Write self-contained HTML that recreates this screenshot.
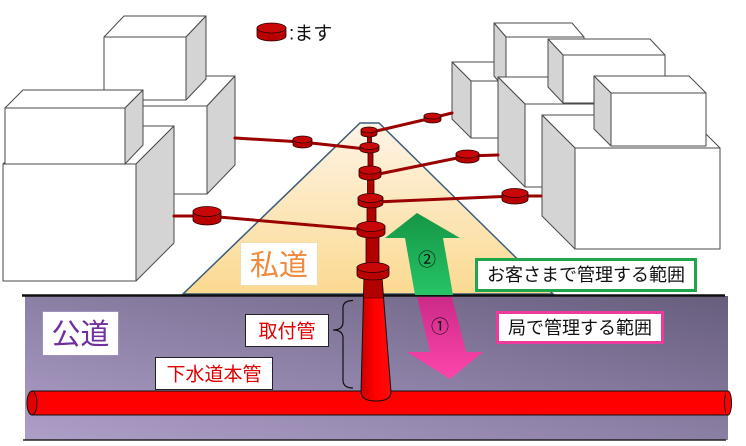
<!DOCTYPE html>
<html><head><meta charset="utf-8"><style>
html,body{margin:0;padding:0;background:#fff;}
svg{display:block;}
text{font-family:"Liberation Sans","Noto Sans CJK JP",sans-serif;}
</style></head><body>
<svg width="746" height="446" viewBox="0 0 746 446" xmlns="http://www.w3.org/2000/svg">
<defs>
<linearGradient id="road" x1="0" y1="0" x2="0" y2="1">
<stop offset="0" stop-color="#fef4e6"/><stop offset="1" stop-color="#fbd990"/>
</linearGradient>
<linearGradient id="gnd" x1="1" y1="0" x2="0" y2="1">
<stop offset="0" stop-color="#675d7c"/><stop offset="0.55" stop-color="#8f82a8"/><stop offset="1" stop-color="#ae9fc8"/>
</linearGradient>
<linearGradient id="grn" x1="0" y1="0" x2="0" y2="1">
<stop offset="0" stop-color="#159645"/><stop offset="1" stop-color="#27c466"/>
</linearGradient>
<linearGradient id="pnk" x1="0" y1="0" x2="0" y2="1">
<stop offset="0" stop-color="#cc2a88"/><stop offset="1" stop-color="#ff45ac"/>
</linearGradient>
<linearGradient id="vp" x1="0" y1="0" x2="1" y2="0">
<stop offset="0" stop-color="#c80000"/><stop offset="0.45" stop-color="#ff0000"/><stop offset="1" stop-color="#ff0a0a"/>
</linearGradient>
</defs>

<!-- ground -->
<rect x="25" y="296" width="703" height="144" fill="url(#gnd)"/>
<line x1="23" y1="440" x2="726" y2="440" stroke="#222" stroke-width="1.5"/>

<!-- left buildings -->
<g stroke="#4a4a4a" stroke-width="1" stroke-linejoin="round">
<rect x="90" y="106" width="117" height="88" fill="#fff"/>
<polygon points="90,106 118,76 235,76 207,106" fill="#fff"/>
<polygon points="207,106 235,76 235,165 207,194" fill="#d4d4d4"/>
<rect x="104" y="37" width="82" height="63" fill="#fff"/>
<polygon points="104,37 124,16 206,16 186,37" fill="#fff"/>
<polygon points="186,37 206,16 206,79 186,100" fill="#d4d4d4"/>
<rect x="3" y="164" width="133" height="117" fill="#fff"/>
<polygon points="3,164 41,126 174,126 136,164" fill="#fff"/>
<polygon points="136,164 174,126 174,243 136,281" fill="#d4d4d4"/>
<rect x="5" y="108" width="120" height="56" fill="#fff"/>
<polygon points="5,108 23,90 143,90 125,108" fill="#fff"/>
<polygon points="125,108 143,90 143,145 125,164" fill="#d4d4d4"/>

<!-- right buildings -->
<rect x="471" y="81" width="59" height="57" fill="#fff"/>
<polygon points="452,62 511,62 530,81 471,81" fill="#fff"/>
<polygon points="452,62 471,81 471,138 452,119" fill="#d4d4d4"/>
<rect x="506" y="37" width="78" height="53" fill="#fff"/>
<polygon points="494,23 572,23 584,37 506,37" fill="#fff"/>
<polygon points="494,23 506,37 506,90 494,76" fill="#d4d4d4"/>
<rect x="525" y="104" width="125" height="83" fill="#fff"/>
<polygon points="498,77 623,77 650,104 525,104" fill="#fff"/>
<polygon points="498,77 525,104 525,187 498,160" fill="#d4d4d4"/>
<rect x="563" y="55" width="102" height="48" fill="#fff"/>
<polygon points="548,39 650,39 665,55 563,55" fill="#fff"/>
<polygon points="548,39 563,55 563,103 548,87" fill="#d4d4d4"/>
<rect x="575" y="148" width="145" height="101" fill="#fff"/>
<polygon points="542,115 687,115 720,148 575,148" fill="#fff"/>
<polygon points="542,115 575,148 575,249 542,216" fill="#d4d4d4"/>
<rect x="611" y="93" width="95" height="53" fill="#fff"/>
<polygon points="594,76 689,76 706,93 611,93" fill="#fff"/>
<polygon points="594,76 611,93 611,146 594,129" fill="#d4d4d4"/>
</g>

<!-- private road -->
<polygon points="360,123 379,123 553,294 183,294" fill="url(#road)" stroke="#3b5b7b" stroke-width="1.5"/>

<!-- ground line -->
<line x1="22" y1="295.5" x2="725" y2="295.5" stroke="#111" stroke-width="2.5"/>

<!-- branch lines -->
<g stroke="#9a0000" stroke-width="3" fill="none" stroke-linecap="round">
<polyline points="372,132 432,118 452,113"/>
<polyline points="366,149 302,142 235,138"/>
<polyline points="374,175 467,156 498,155"/>
<polyline points="375,202 515,196 541,196"/>
<polyline points="368,230 207,216 174,216"/>
</g>

<!-- main sewer pipe -->
<rect x="32" y="391" width="696" height="24" fill="#ff0000" stroke="#111" stroke-width="1"/>
<ellipse cx="728" cy="403" rx="3.5" ry="12" fill="#ff0000" stroke="#111" stroke-width="1"/>
<rect x="726" y="391.5" width="3" height="23" fill="#ff0000"/>
<ellipse cx="32" cy="403" rx="5" ry="12" fill="#e00000" stroke="#111" stroke-width="1"/>

<!-- vertical stack segments -->
<g fill="#b00000" stroke="#300" stroke-width="0.8">
<rect x="367.5" y="133" width="4" height="14"/>
<rect x="368" y="150" width="5" height="21"/>
<rect x="367.5" y="176" width="6.5" height="23"/>
<rect x="367" y="205" width="9" height="22"/>
<rect x="366" y="234" width="13" height="34"/>
</g>

<!-- lateral pipe -->
<path d="M364,278 L382,278 L391,392 Q391,401 376,401 Q361,401 361,392 Z" fill="url(#vp)" stroke="#111" stroke-width="1"/>
<polygon points="364,277 382,277 383.4,298 363.5,298" fill="#b00000" stroke="#300" stroke-width="0.6"/>

<!-- masu -->
<g stroke="#2a0000" stroke-width="0.8">
<path d="M361,130 L361,134 A8,3 0 0 0 377,134 L377,130 Z" fill="#b80000"/><ellipse cx="369" cy="130" rx="8" ry="3" fill="#c80808"/>
<path d="M360,146 L360,149.5 A9.5,3.5 0 0 0 379,149.5 L379,146 Z" fill="#b80000"/><ellipse cx="369.5" cy="146" rx="9.5" ry="3.5" fill="#c80808"/>
<path d="M359,170 L359,176 A11,4 0 0 0 381,176 L381,170 Z" fill="#b80000"/><ellipse cx="370" cy="170" rx="11" ry="4" fill="#c80808"/>
<path d="M358,198 L358,203.5 A12.5,4.5 0 0 0 383,203.5 L383,198 Z" fill="#b80000"/><ellipse cx="370.5" cy="198" rx="12.5" ry="4.5" fill="#c80808"/>
<path d="M357,226.5 L357,233 A14,5 0 0 0 385,233 L385,226.5 Z" fill="#b80000"/><ellipse cx="371" cy="226.5" rx="14" ry="5" fill="#c80808"/>
<path d="M357,267.5 L357,275 A16,5 0 0 0 389,275 L389,267.5 Z" fill="#b80000"/><ellipse cx="373" cy="267.5" rx="16" ry="5" fill="#c80808"/>
<path d="M424,116 L424,120 A8.5,3 0 0 0 441,120 L441,116 Z" fill="#b80000"/><ellipse cx="432.5" cy="116" rx="8.5" ry="3" fill="#c80808"/>
<path d="M293,139.5 L293,144.5 A9.5,3.5 0 0 0 312,144.5 L312,139.5 Z" fill="#b80000"/><ellipse cx="302.5" cy="139.5" rx="9.5" ry="3.5" fill="#c80808"/>
<path d="M456,154 L456,159 A11.5,4 0 0 0 479,159 L479,154 Z" fill="#b80000"/><ellipse cx="467.5" cy="154" rx="11.5" ry="4" fill="#c80808"/>
<path d="M502,193 L502,199.5 A13,4.5 0 0 0 528,199.5 L528,193 Z" fill="#b80000"/><ellipse cx="515" cy="193" rx="13" ry="4.5" fill="#c80808"/>
<path d="M193,211.5 L193,220 A14,5 0 0 0 221,220 L221,211.5 Z" fill="#b80000"/><ellipse cx="207" cy="211.5" rx="14" ry="5" fill="#c80808"/>
<path d="M257,28 L257,36 A14.5,5 0 0 0 286,36 L286,28 Z" fill="#b80000"/><ellipse cx="271.5" cy="28" rx="14.5" ry="5" fill="#c80808"/>
</g>
<text x="289" y="39.5" font-size="19" fill="#111">:ます</text>

<!-- green arrow ② -->
<polygon points="417,213 460,238 443,238 453,295 415,295 405,238 385,238" fill="url(#grn)"/>
<text x="427" y="266" font-size="18" fill="#111" text-anchor="middle">②</text>

<!-- pink arrow ① -->
<polygon points="417,297 452,297 466,352 483,352 450,379 407,352 430,352" fill="url(#pnk)"/>
<text x="440" y="333" font-size="18" fill="#111" text-anchor="middle">①</text>

<!-- bracket -->
<path d="M353,300.5 Q343,300.5 343,308 L343,322 Q343,330 333,330 Q343,330 343,338 L343,380 Q343,388 353,388" fill="none" stroke="#111" stroke-width="1.2"/>

<!-- labels -->
<rect x="240.5" y="242.5" width="77" height="43" fill="#fff" stroke="#f6dca8" stroke-width="1"/>
<text x="279" y="275" font-size="29" fill="#ef8a3e" text-anchor="middle">私道</text>

<rect x="476.5" y="259.5" width="219" height="31" fill="#fff" stroke="#1fa64a" stroke-width="3"/>
<text x="586" y="281" font-size="18" fill="#111" text-anchor="middle">お客さまで管理する範囲</text>

<rect x="497.5" y="312.5" width="165" height="30" fill="#fff" stroke="#ee3a9a" stroke-width="3"/>
<text x="580" y="334" font-size="18" fill="#111" text-anchor="middle">局で管理する範囲</text>

<rect x="42.5" y="311.5" width="76" height="44" fill="#fff" stroke="#a090c0" stroke-width="1"/>
<text x="80.5" y="344" font-size="29" fill="#7030a0" text-anchor="middle">公道</text>

<rect x="245.5" y="314.5" width="83" height="32" fill="#fff" stroke="#222" stroke-width="1"/>
<text x="287" y="337.5" font-size="19" fill="#e00000" text-anchor="middle">取付管</text>

<rect x="155.5" y="357.5" width="117" height="32" fill="#fff" stroke="#222" stroke-width="1"/>
<text x="214" y="380.5" font-size="19" fill="#e00000" text-anchor="middle">下水道本管</text>
</svg>
</body></html>
